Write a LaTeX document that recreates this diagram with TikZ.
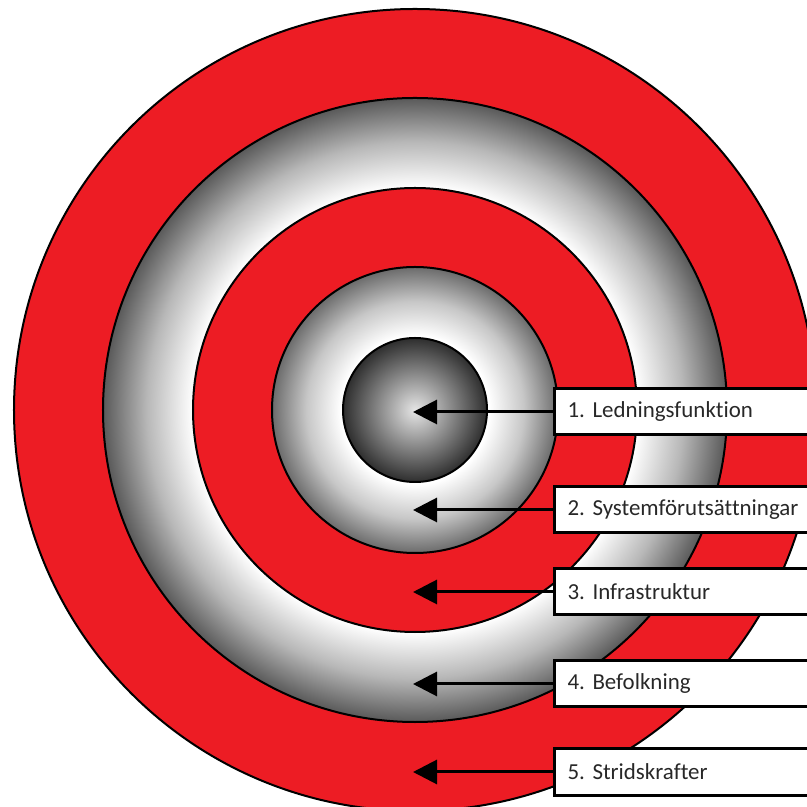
\documentclass[tikz,border=0pt]{standalone}
\usepackage{fontspec}
\setmainfont{Carlito}[Ligatures=NoCommon]
\frenchspacing
\usetikzlibrary{arrows.meta}
\definecolor{target}{RGB}{237,28,36}
\definecolor{ink}{RGB}{40,40,40}
\pgfdeclareradialshading{coreball}{\pgfpoint{0bp}{0bp}}{color(0bp)=(white!90!black); color(25bp)=(black!82); color(50bp)=(black!82)}
\pgfdeclareradialshading{innerring}{\pgfpoint{0bp}{0bp}}{color(0bp)=(white); color(13bp)=(white); color(19bp)=(black!22); color(25bp)=(black!58); color(50bp)=(black!58)}
\pgfdeclareradialshading{outerring}{\pgfpoint{0bp}{0bp}}{color(0bp)=(white); color(17.8bp)=(white); color(21.5bp)=(black!28); color(25bp)=(black!65); color(50bp)=(black!65)}
\tikzset{
  >={Triangle[length=24bp,width=24bp]},
  band/.style={draw=black,line width=2bp,fill=target},
  shaded band/.style={draw=black,line width=2bp,shading=#1},
  label box/.style={draw=black,line width=3bp,fill=white,anchor=west,
    minimum height=46bp,text width=300bp,inner xsep=13bp,align=left,
    font=\fontsize{23}{27}\selectfont,text=ink},
  pointer/.style={->,line width=3bp},
}

\begin{document}
\begin{tikzpicture}[x=1bp,y=1bp]
  \useasboundingbox (0,0) rectangle (807,807);
  \coordinate (c) at (415,397);
  % target rings
  \draw[band] (c) circle (401bp);
  \draw[shaded band=outerring] (c) circle (312bp);
  \draw[band] (c) circle (222bp);
  \draw[shaded band=innerring] (c) circle (143bp);
  \draw[shaded band=coreball] (c) circle (72bp);
  % labels
  \foreach \i/\y/\t in {1/395/1. Ledningsfunktion,2/297/2. Systemförutsättningar,3/215/3. Infrastruktur,4/123/4. Befolkning,5/35/5. Stridskrafter}{
    \node[label box] (b\i) at (553,\y) {\t};
    \coordinate (p\i) at (413,\y);
    \draw[pointer] (b\i) -- (p\i);
  }
\end{tikzpicture}
\end{document}
